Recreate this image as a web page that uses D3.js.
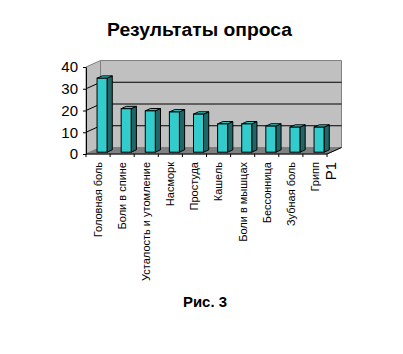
<!DOCTYPE html>
<html lang="ru">
<head>
  <meta charset="UTF-8">
  <title>Результаты опроса</title>
  <script src="https://d3js.org/d3.v7.min.js"></script>
  <style>
    body { margin: 0; padding: 0; background: #fff; }
    svg { display: block; font-family: Arial, "Liberation Sans", sans-serif; }
  </style>
</head>
<body>
<svg id="chart" width="403" height="354"></svg>
<script>
const categories = ["Головная боль", "Боли в спине", "Усталость и утомление", "Насморк", "Простуда",
  "Кашель", "Боли в мышцах", "Бессонница", "Зубная боль", "Грипп"];
const values = [34, 20, 19, 18.5, 17.5, 13, 13, 12, 11.5, 11.5];
const yTicks = [0, 10, 20, 30, 40];
const seriesName = "Р1";

const svg = d3.select("#chart");

// front plane of the 3d box
const x0 = 86, x1 = 327;
const dx = 14.5, dy = -6.5;      // depth offset
const t1 = 0.28, t2 = 0.64;      // bar front/back depth

const y = d3.scaleLinear().domain([0, 40]).range([154, 67]);
const x = d3.scaleBand().domain(categories).range([x0, x1])
  .paddingInner(0.585).paddingOuter(0.29);
const step = (x1 - x0) / categories.length;

const pts = a => a.map(p => p.join(",")).join(" ");

svg.append("text")
  .attr("x", 107).attr("y", 35.5)
  .attr("textLength", 185).attr("lengthAdjust", "spacingAndGlyphs")
  .style("font-size", "17.5px").style("font-weight", "bold")
  .text("Результаты опроса");

// walls
svg.append("polygon")
  .attr("points", pts([[x0, y(0)], [x0, y(40)], [x0 + dx, y(40) + dy], [x0 + dx, y(0) + dy]]))
  .attr("fill", "#c0c0c0").attr("stroke", "#808080");
svg.append("polygon")
  .attr("points", pts([[x0 + dx, y(40) + dy], [x1 + dx, y(40) + dy], [x1 + dx, y(0) + dy], [x0 + dx, y(0) + dy]]))
  .attr("fill", "#c0c0c0").attr("stroke", "#808080");
svg.append("polygon")
  .attr("points", pts([[x0, y(0)], [x1, y(0)], [x1 + dx, y(0) + dy], [x0 + dx, y(0) + dy]]))
  .attr("fill", "#808080").attr("stroke", "#808080");
svg.append("line")
  .attr("x1", x1).attr("y1", y(0)).attr("x2", x1 + dx).attr("y2", y(0) + dy)
  .attr("stroke", "#000");

// gridlines
svg.append("g").selectAll("polyline")
  .data(yTicks.filter(v => v > 0 && v < 40))
  .join("polyline")
  .attr("points", v => pts([[x0, y(v)], [x0 + dx, y(v) + dy], [x1 + dx, y(v) + dy]]))
  .attr("fill", "none").attr("stroke", "#000");

// y axis
const yAxis = svg.append("g")
  .attr("transform", `translate(${x0},0)`)
  .call(d3.axisLeft(y).tickValues(yTicks).tickSize(3).tickPadding(5).tickSizeOuter(0));
yAxis.selectAll("text").style("font-size", "15px").attr("fill", "#000");
yAxis.selectAll("line, path").attr("stroke", "#000");

// x axis line and boundary ticks
svg.append("line")
  .attr("x1", x0).attr("y1", y(0)).attr("x2", x1).attr("y2", y(0))
  .attr("stroke", "#000");
svg.append("g").selectAll("line")
  .data(d3.range(categories.length + 1))
  .join("line")
  .attr("x1", i => x0 + i * step).attr("x2", i => x0 + i * step)
  .attr("y1", y(0)).attr("y2", y(0) + 3)
  .attr("stroke", "#000");

// bars
const bars = svg.append("g").selectAll("g")
  .data(categories.map((c, i) => ({c, v: values[i]})))
  .join("g");

const ddx = (t2 - t1) * dx, ddy = (t2 - t1) * dy;
const geo = d => {
  const xl = x(d.c) + t1 * dx, xr = xl + x.bandwidth();
  const yt = y(d.v) + t1 * dy, yb = y(0) + t1 * dy;
  return {xl, xr, yt, yb};
};
bars.append("polygon")
  .attr("points", d => { const g = geo(d); return pts([[g.xr, g.yt], [g.xr + ddx, g.yt + ddy], [g.xr + ddx, g.yb + ddy], [g.xr, g.yb]]); })
  .attr("fill", "#216666").attr("stroke", "#000").attr("stroke-linejoin", "round");
bars.append("polygon")
  .attr("points", d => { const g = geo(d); return pts([[g.xl, g.yt], [g.xr, g.yt], [g.xr + ddx, g.yt + ddy], [g.xl + ddx, g.yt + ddy]]); })
  .attr("fill", "#33cccc").attr("stroke", "#000").attr("stroke-linejoin", "round");
bars.append("rect")
  .attr("x", d => geo(d).xl).attr("y", d => geo(d).yt)
  .attr("width", x.bandwidth()).attr("height", d => geo(d).yb - geo(d).yt)
  .attr("fill", "#33cccc").attr("stroke", "#000");

// category labels
svg.append("g").selectAll("text")
  .data(categories)
  .join("text")
  .attr("transform", (c, i) => `translate(${x0 + step * (i + 0.5)},162) rotate(-90)`)
  .attr("dy", "0.35em")
  .attr("text-anchor", "end")
  .style("font-size", "11px")
  .text(c => c);

svg.append("text")
  .attr("transform", "translate(331,162) rotate(-90)")
  .attr("dy", "0.35em")
  .attr("text-anchor", "end")
  .style("font-size", "15px")
  .text(seriesName);

svg.append("text")
  .attr("x", 183).attr("y", 307)
  .attr("textLength", 44).attr("lengthAdjust", "spacingAndGlyphs")
  .style("font-size", "14px").style("font-weight", "bold")
  .text("Рис. 3");
</script>
</body>
</html>
